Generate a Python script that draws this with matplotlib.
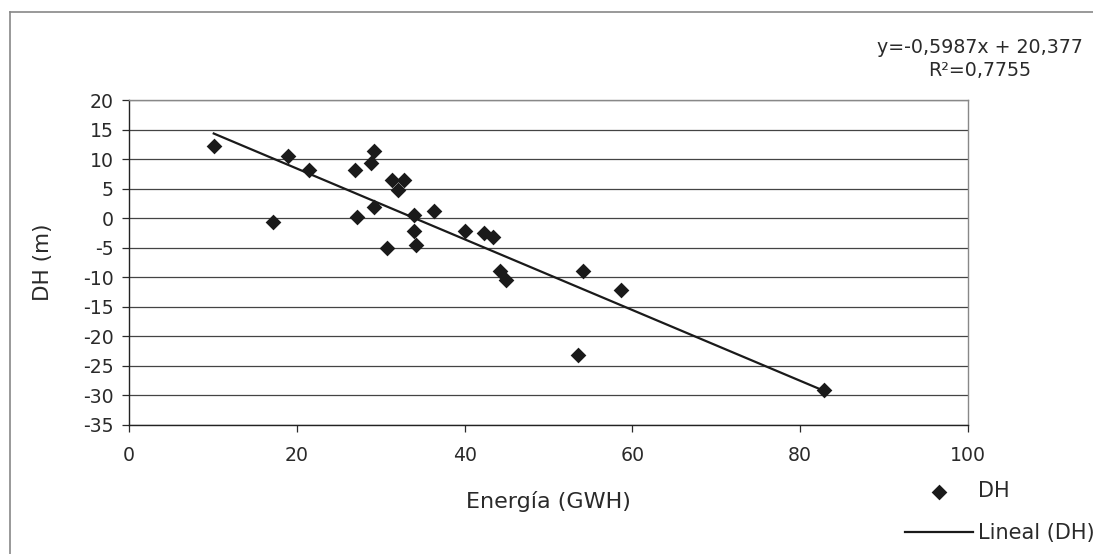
import numpy as np
import matplotlib
matplotlib.use("Agg")
import matplotlib.pyplot as plt
from matplotlib.lines import Line2D

plt.rcParams['font.family'] = ['DejaVu Sans']
plt.rcParams['axes.unicode_minus'] = False

# Energía (GWH) vs DH (m)
energia = [10.1, 17.2, 19.0, 21.5, 26.9, 27.2, 28.8, 29.2, 29.2, 30.8,
           31.3, 32.1, 32.8, 34.0, 34.0, 34.2, 36.3, 40.1, 42.3, 43.4,
           44.2, 44.9, 53.5, 54.1, 58.7, 82.8]
dh = [12.2, -0.7, 10.5, 8.1, 8.2, 0.2, 9.3, 11.4, 1.9, -5.1,
      6.5, 4.7, 6.5, 0.6, -2.2, -4.6, 1.2, -2.2, -2.5, -3.2,
      -8.9, -10.4, -23.1, -9.0, -12.2, -29.0]

# linear trend as printed on the chart
slope = -0.5987
intercept = 20.377
r2 = 0.7755

xticks = [0, 20, 40, 60, 80, 100]
yticks = list(range(-35, 21, 5))

txt = '#2a2a2a'
W, H = 1093, 554
fig = plt.figure(figsize=(W / 100, H / 100), dpi=100)
ax = fig.add_axes([129 / W, 1 - 425 / H, (968 - 129) / W, (425 - 100) / H])

# outer frame: only its top and left edges fall inside the picture
fx, fy = 10 / W, 1 - 12 / H
fig.add_artist(Line2D([fx, fx], [0, fy], transform=fig.transFigure, color='#888888', linewidth=1.2))
fig.add_artist(Line2D([fx, 1], [fy, fy], transform=fig.transFigure, color='#888888', linewidth=1.2))

for y in yticks:
    ax.axhline(y, color='#444444', linewidth=0.9, zorder=1)

ax.scatter(energia, dh, marker='D', s=8 ** 2, color='#1a1a1a', zorder=3, label='DH',
           linewidths=0)

xs = np.array([min(energia), max(energia)])
ax.plot(xs, slope * xs + intercept, color='#1a1a1a', linewidth=1.6, zorder=2,
        label='Lineal (DH)')

ax.set_xlim(0, 100)
ax.set_ylim(-35, 20)
ax.set_xticks(xticks)
ax.set_yticks(yticks)
ax.tick_params(axis='both', labelsize=13.6, colors=txt, length=5, width=0.9)
ax.tick_params(axis='x', pad=10)
ax.tick_params(axis='y', pad=6)

for s in ['top', 'right']:
    ax.spines[s].set_color('#888888')
    ax.spines[s].set_linewidth(1.0)
for s in ['left', 'bottom']:
    ax.spines[s].set_color('#222222')
    ax.spines[s].set_linewidth(1.0)

ax.set_xlabel('Energía (GWH)', fontsize=16, color=txt)
ax.set_ylabel('DH (m)', fontsize=15.5, color=txt)
ax.xaxis.set_label_coords(0.5, (425 - 502) / 325)
ax.xaxis.label.set_verticalalignment('center')
ax.yaxis.set_label_coords((43 - 129) / 839, 0.5)
ax.yaxis.label.set_verticalalignment('center')

def comma(v):
    return str(v).replace('.', ',')

eq = f'y={comma(slope)}x + {comma(intercept)}\nR²={comma(r2)}'
fig.text(980 / W, 1 - 59 / H, eq, ha='center', va='center', fontsize=13.7,
         color=txt, linespacing=1.3)

fig.legend(loc='upper left', bbox_to_anchor=(905 / W, 1 - 481 / H), frameon=False,
           fontsize=15, handlelength=3.27, handletextpad=0.25, labelspacing=1.06,
           borderpad=0, borderaxespad=0, labelcolor=txt)

fig.savefig('out.png', dpi=100)
